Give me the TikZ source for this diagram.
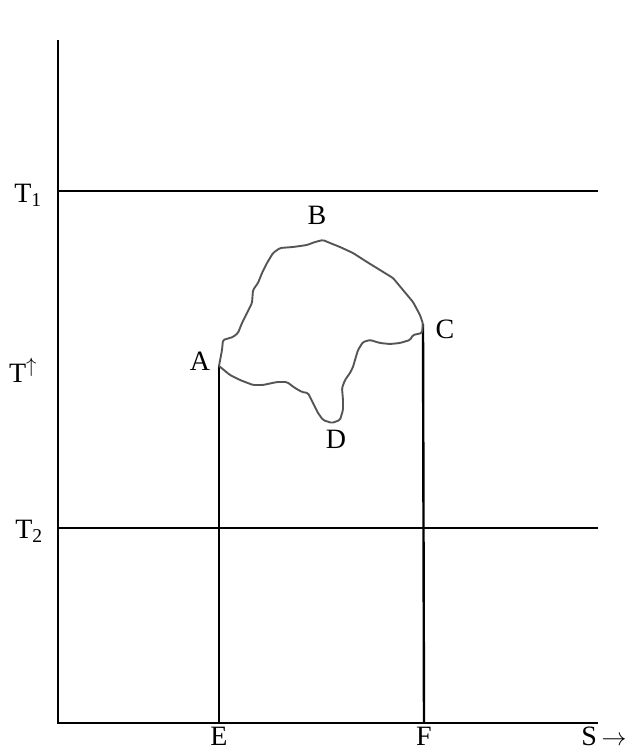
\documentclass[tikz,border=0pt]{standalone}
\usepackage{fontspec}
\setmainfont{Liberation Serif}
\begin{document}
\begin{tikzpicture}[x=1pt,y=-1pt,
  axis/.style={line width=2.6pt,black},
  guide/.style={line width=2.4pt,black},
  cycleline/.style={line width=1.9pt,draw={rgb,255:red,85;green,85;blue,85},line join=round,line cap=round,rounded corners=1.5pt},
  lbl/.style={font=\fontsize{28}{32}\selectfont,inner sep=0pt,anchor=base}]
\useasboundingbox (0,0) rectangle (634,753);
% axes
\coordinate (top) at (58,40);
\coordinate (O) at (58,723);
\coordinate (xend) at (598,723);
\draw[axis] (top) -- (O) -- (xend);
% isotherms
\coordinate (T1l) at (58,191);
\coordinate (T1r) at (598,191);
\coordinate (T2l) at (58,528);
\coordinate (T2r) at (598,528);
\draw[guide] (T1l) -- (T1r);
\draw[guide] (T2l) -- (T2r);
% points
\coordinate (A) at (219,366);
\coordinate (C) at (423,324);
\coordinate (E) at (219,723);
\coordinate (F) at (424,723);
\draw[guide] (A) -- (E);
\draw[guide] (C) -- (F);
% cycle
\draw[cycleline] (A) -- (222,350) -- (223,340) -- (233,337) -- (238,333) -- (242,323) -- (247,313) -- (252,303) -- (253,290) -- (258,283) -- (262,273) -- (267,263) -- (273,253) -- (280,248) -- (293,247) -- (307,245) -- (315,242) -- (323,240) -- (330,243) -- (340,247) -- (353,253) -- (367,262) -- (380,270) -- (393,278) -- (403,290) -- (413,302) -- (420,315) -- (C)
  -- (422,333) -- (413,335) -- (410,340) -- (400,343) -- (390,344) -- (380,343) -- (370,340) -- (363,342) -- (358,350) -- (355,360) -- (353,367) -- (350,373) -- (345,380) -- (342,388) -- (343,400) -- (343,410) -- (340,420) -- (332,423) -- (323,420) -- (318,413) -- (313,403) -- (308,393) -- (302,392) -- (295,388) -- (287,382) -- (277,382) -- (263,385) -- (253,385) -- (240,380) -- (230,375) -- (A);
% labels
\node[lbl] (lA) at (200,370) {A};
\node[lbl] (lB) at (317,224) {B};
\node[lbl] (lC) at (445,338) {C};
\node[lbl] (lD) at (336,448) {D};
\node[lbl] (lE) at (219,745) {E};
\node[lbl] (lF) at (424,745) {F};
\node[lbl] (lS) at (604,745) {S\,$\rightarrow$};
\node[lbl] (lT1) at (28,202) {T\textsubscript{1}};
\node[lbl] (lT) at (23,382) {T$^{\uparrow}$};
\node[lbl] (lT2) at (29,538) {T\textsubscript{2}};
\end{tikzpicture}
\end{document}
